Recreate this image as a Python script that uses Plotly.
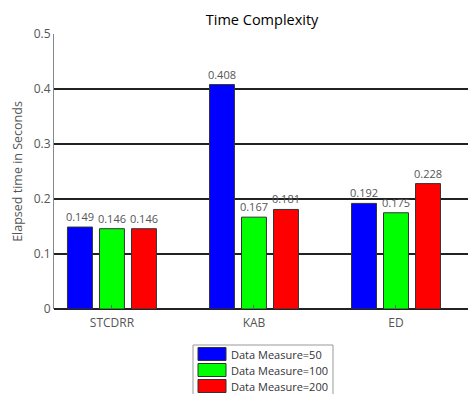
import plotly.graph_objects as go

# Mean elapsed time per method for each data measure
methods = ["STCDRR", "KAB", "ED"]
series_names = ["Data Measure=50", "Data Measure=100", "Data Measure=200"]
series_colors = ["#0000ff", "#00ff00", "#ff0000"]
time_50 = [0.149, 0.408, 0.192]
time_100 = [0.146, 0.167, 0.175]
time_200 = [0.146, 0.181, 0.228]
y_ticks = [0, 0.1, 0.2, 0.3, 0.4, 0.5]

series_values = [time_50, time_100, time_200]
xpos = [1, 2, 3]

FONT = "Open Sans"
GREY = "#555555"

W, H = 468, 394
ML, MR, MT, MB = 54, 0, 34, 85
PW, PH = W - ML - MR, H - MT - MB


def px_x(px):
    return (px - ML) / PW


def px_y(py):
    return (H - MB - py) / PH


fig = go.Figure()
for name, color, vals in zip(series_names, series_colors, series_values):
    fig.add_trace(go.Bar(
        x=xpos, y=vals, name=name,
        marker=dict(color=color, line=dict(color="#333333", width=1)),
        text=[f"{v:.3f}" for v in vals],
        textposition="outside",
        constraintext="none",
        cliponaxis=False,
        textfont=dict(family=FONT, size=11, color=GREY),
        showlegend=False,
    ))

# Boxed legend below the axes with wide colour swatches
shapes = [dict(type="rect", xref="paper", yref="paper",
               x0=px_x(193), x1=px_x(333), y0=px_y(345), y1=px_y(404),
               line=dict(color="#999999", width=1), fillcolor="white", layer="above")]
annotations = []
for i, (name, color) in enumerate(zip(series_names, series_colors)):
    cy = 354 + 16 * i
    shapes.append(dict(type="rect", xref="paper", yref="paper",
                       x0=px_x(198), x1=px_x(226), y0=px_y(cy + 6.5), y1=px_y(cy - 6.5),
                       line=dict(color="#333333", width=1), fillcolor=color, layer="above"))
    annotations.append(dict(xref="paper", yref="paper", x=px_x(229), y=px_y(cy),
                            xanchor="left", yanchor="middle", showarrow=False,
                            text=name, font=dict(family=FONT, size=11, color="#333333")))

fig.update_layout(
    width=W, height=H,
    margin=dict(l=ML, r=MR, t=MT, b=MB, autoexpand=False),
    paper_bgcolor="white", plot_bgcolor="white",
    barmode="group", bargap=0.324, bargroupgap=0.22,
    title=dict(text="Time Complexity", x=0.56, xanchor="center",
               y=0.95, yanchor="middle",
               font=dict(family=FONT, size=14.5, color="black")),
    font=dict(family=FONT, color=GREY),
    showlegend=False,
    shapes=shapes,
    annotations=annotations,
)
fig.update_xaxes(
    range=[0.592, 3.507], tickvals=xpos, ticktext=methods,
    showgrid=False, zeroline=False, showline=False,
    ticks="inside", ticklen=4, tickcolor="#666666",
    ticklabelstandoff=5,
    tickfont=dict(family=FONT, size=12, color=GREY),
)
fig.update_yaxes(
    range=[0, 0.5], tickvals=y_ticks, ticktext=["0", "0.1", "0.2", "0.3", "0.4", "0.5"],
    showgrid=True, gridcolor="#222222", gridwidth=1.6,
    zeroline=True, zerolinecolor="#222222", zerolinewidth=1.6,
    showline=True, linecolor="#888888", linewidth=1,
    ticks="", tickfont=dict(family=FONT, size=12, color=GREY),
    title=dict(text="Elapsed time in Seconds", standoff=8,
               font=dict(family=FONT, size=12.5, color=GREY)),
)

fig.write_html("out.html")
